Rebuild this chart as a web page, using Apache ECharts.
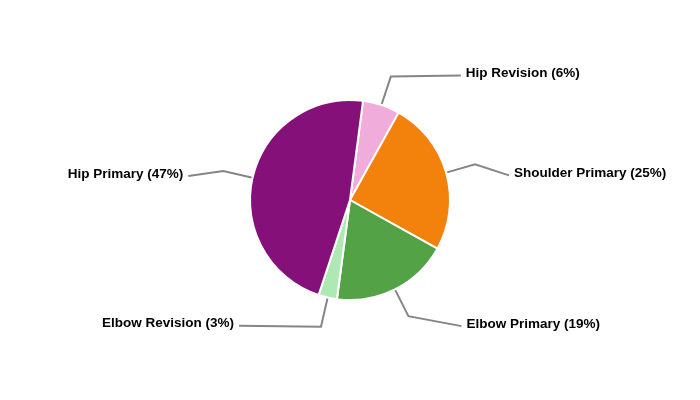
<!DOCTYPE html>
<html><head><meta charset="utf-8">
<script src="https://cdn.jsdelivr.net/npm/echarts@6/dist/echarts.min.js"></script>
<style>html,body{margin:0;padding:0;background:#fff}#c{width:700px;height:400px}</style>
</head><body><div id="c"></div>
<script>
const categories = ['Hip Revision', 'Shoulder Primary', 'Elbow Primary', 'Elbow Revision', 'Hip Primary'];
const values = [6, 25, 19, 3, 47];
const colors = ['#F0ACDA', '#F2820B', '#53A246', '#AEE8B3', '#85107A'];
const lineLen2 = [70, 34, 53, 82, 35];
const labelDy = [-3, 9, 8, -3, 3];

const chart = echarts.init(document.getElementById('c'), null, {renderer: 'canvas'});
chart.setOption({
  animation: false,
  series: [{
    type: 'pie',
    center: [350, 200],
    radius: [0, 100],
    startAngle: 82.5,
    clockwise: true,
    avoidLabelOverlap: false,
    itemStyle: {borderColor: '#ffffff', borderWidth: 2},
    label: {
      show: true,
      formatter: p => p.name + ' (' + p.value + '%)',
      fontFamily: 'Liberation Sans, Arial, sans-serif',
      fontWeight: 'bold',
      fontSize: 13.5,
      color: '#000'
    },
    labelLine: {length: 30, lineStyle: {color: '#858585', width: 2}},
    labelLayout: p => {
      const dy = labelDy[p.dataIndex];
      const pts = p.labelLinePoints;
      const out = {dy: dy};
      if (pts && pts.length === 3) {
        out.labelLinePoints = [pts[0], pts[1], [pts[2][0], pts[2][1] + dy + 2]];
      }
      return out;
    },
    data: categories.map((n, i) => ({
      name: n, value: values[i],
      itemStyle: {color: colors[i]},
      labelLine: {length: 30, length2: lineLen2[i]}
    }))
  }]
});
</script></body></html>
